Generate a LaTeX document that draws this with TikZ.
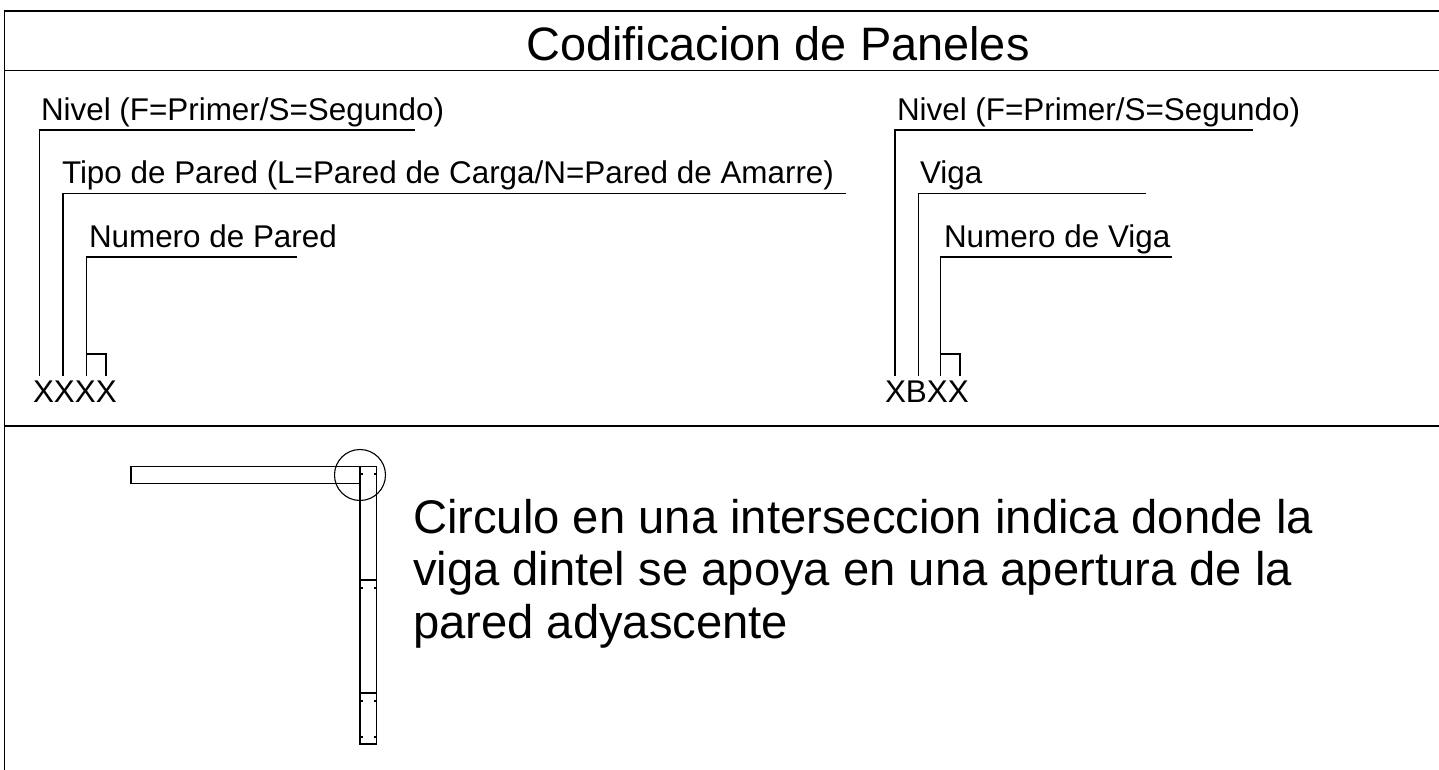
\documentclass[tikz,border=0pt]{standalone}
\usepackage{fontspec}
\setmainfont{Liberation Sans}
\tikzset{
  ln/.style={draw=black,line width=0.55pt},
  tick/.style={draw=black,line width=0.6pt},
  lab/.style={anchor=base west,inner sep=0pt,outer sep=0pt,font=\fontsize{15.7}{17}\selectfont},
  big/.style={anchor=base west,inner sep=0pt,outer sep=0pt,font=\fontsize{23.6}{26}\selectfont},
  ttl/.style={anchor=base,inner sep=0pt,outer sep=0pt,font=\fontsize{23.45}{26}\selectfont}
}
\begin{document}
\begin{tikzpicture}[x=0.5pt,y=-0.5pt]
\useasboundingbox (0,0) rectangle (1439,770);
% frame
\draw[ln] (4.5,770) -- (4.5,11) -- (1439,11);
\draw[ln] (4.5,70.5) -- (1439,70.5);
\draw[ln] (4.5,426) -- (1439,426);
% title
\node[ttl] (title) at (778,61) {Codificacion de Paneles};
% left labels
\node[lab] (n1) at (41,121) {Nivel (F=Primer/S=Segundo)};
\node[lab] (n2) at (62,184) {Tipo de Pared (L=Pared de Carga/N=Pared de Amarre)};
\node[lab] (n3) at (89,248) {Numero de Pared};
\node[lab] (c1) at (33,402.5) {XXXX};
\draw[ln] (39.5,376) -- (39.5,130) -- (415,130);
\draw[ln] (63,376) -- (63,193.5) -- (846,193.5);
\draw[ln] (86.5,376) -- (86.5,257) -- (297,257);
\draw[ln] (86.5,354) -- (106,354) -- (106,376);
% right labels
\node[lab] (m1) at (897,121) {Nivel (F=Primer/S=Segundo)};
\node[lab] (m2) at (920,184) {Viga};
\node[lab] (m3) at (944,248) {Numero de Viga};
\node[lab] (c2) at (885,402.5) {XBXX};
\draw[ln] (895,376) -- (895,130) -- (1253,130);
\draw[ln] (918.5,376) -- (918.5,193.5) -- (1146,193.5);
\draw[ln] (940.5,376) -- (940.5,257) -- (1172,257);
\draw[ln] (940.5,354) -- (960,354) -- (960,376);
% plan
\draw[ln] (360,483.5) -- (131,483.5) -- (131,466.5) -- (360,466.5);
\draw[ln] (360,744) rectangle (376.5,466.5);
\draw[ln] (360,580) -- (376.5,580);
\draw[ln] (360,693) -- (376.5,693);
\draw[ln] (360,475) circle[radius=25.5];
\foreach \yy in {474,588,701,737}{
  \draw[tick] (360,\yy) -- (363,\yy);
  \draw[tick] (373.5,\yy) -- (376.5,\yy);
}
% note
\node[big] (b1) at (413,533) {Circulo en una interseccion indica donde la};
\node[big] (b2) at (413,585.5) {viga dintel se apoya en una apertura de la};
\node[big] (b3) at (413,638) {pared adyascente};
\end{tikzpicture}
\end{document}
